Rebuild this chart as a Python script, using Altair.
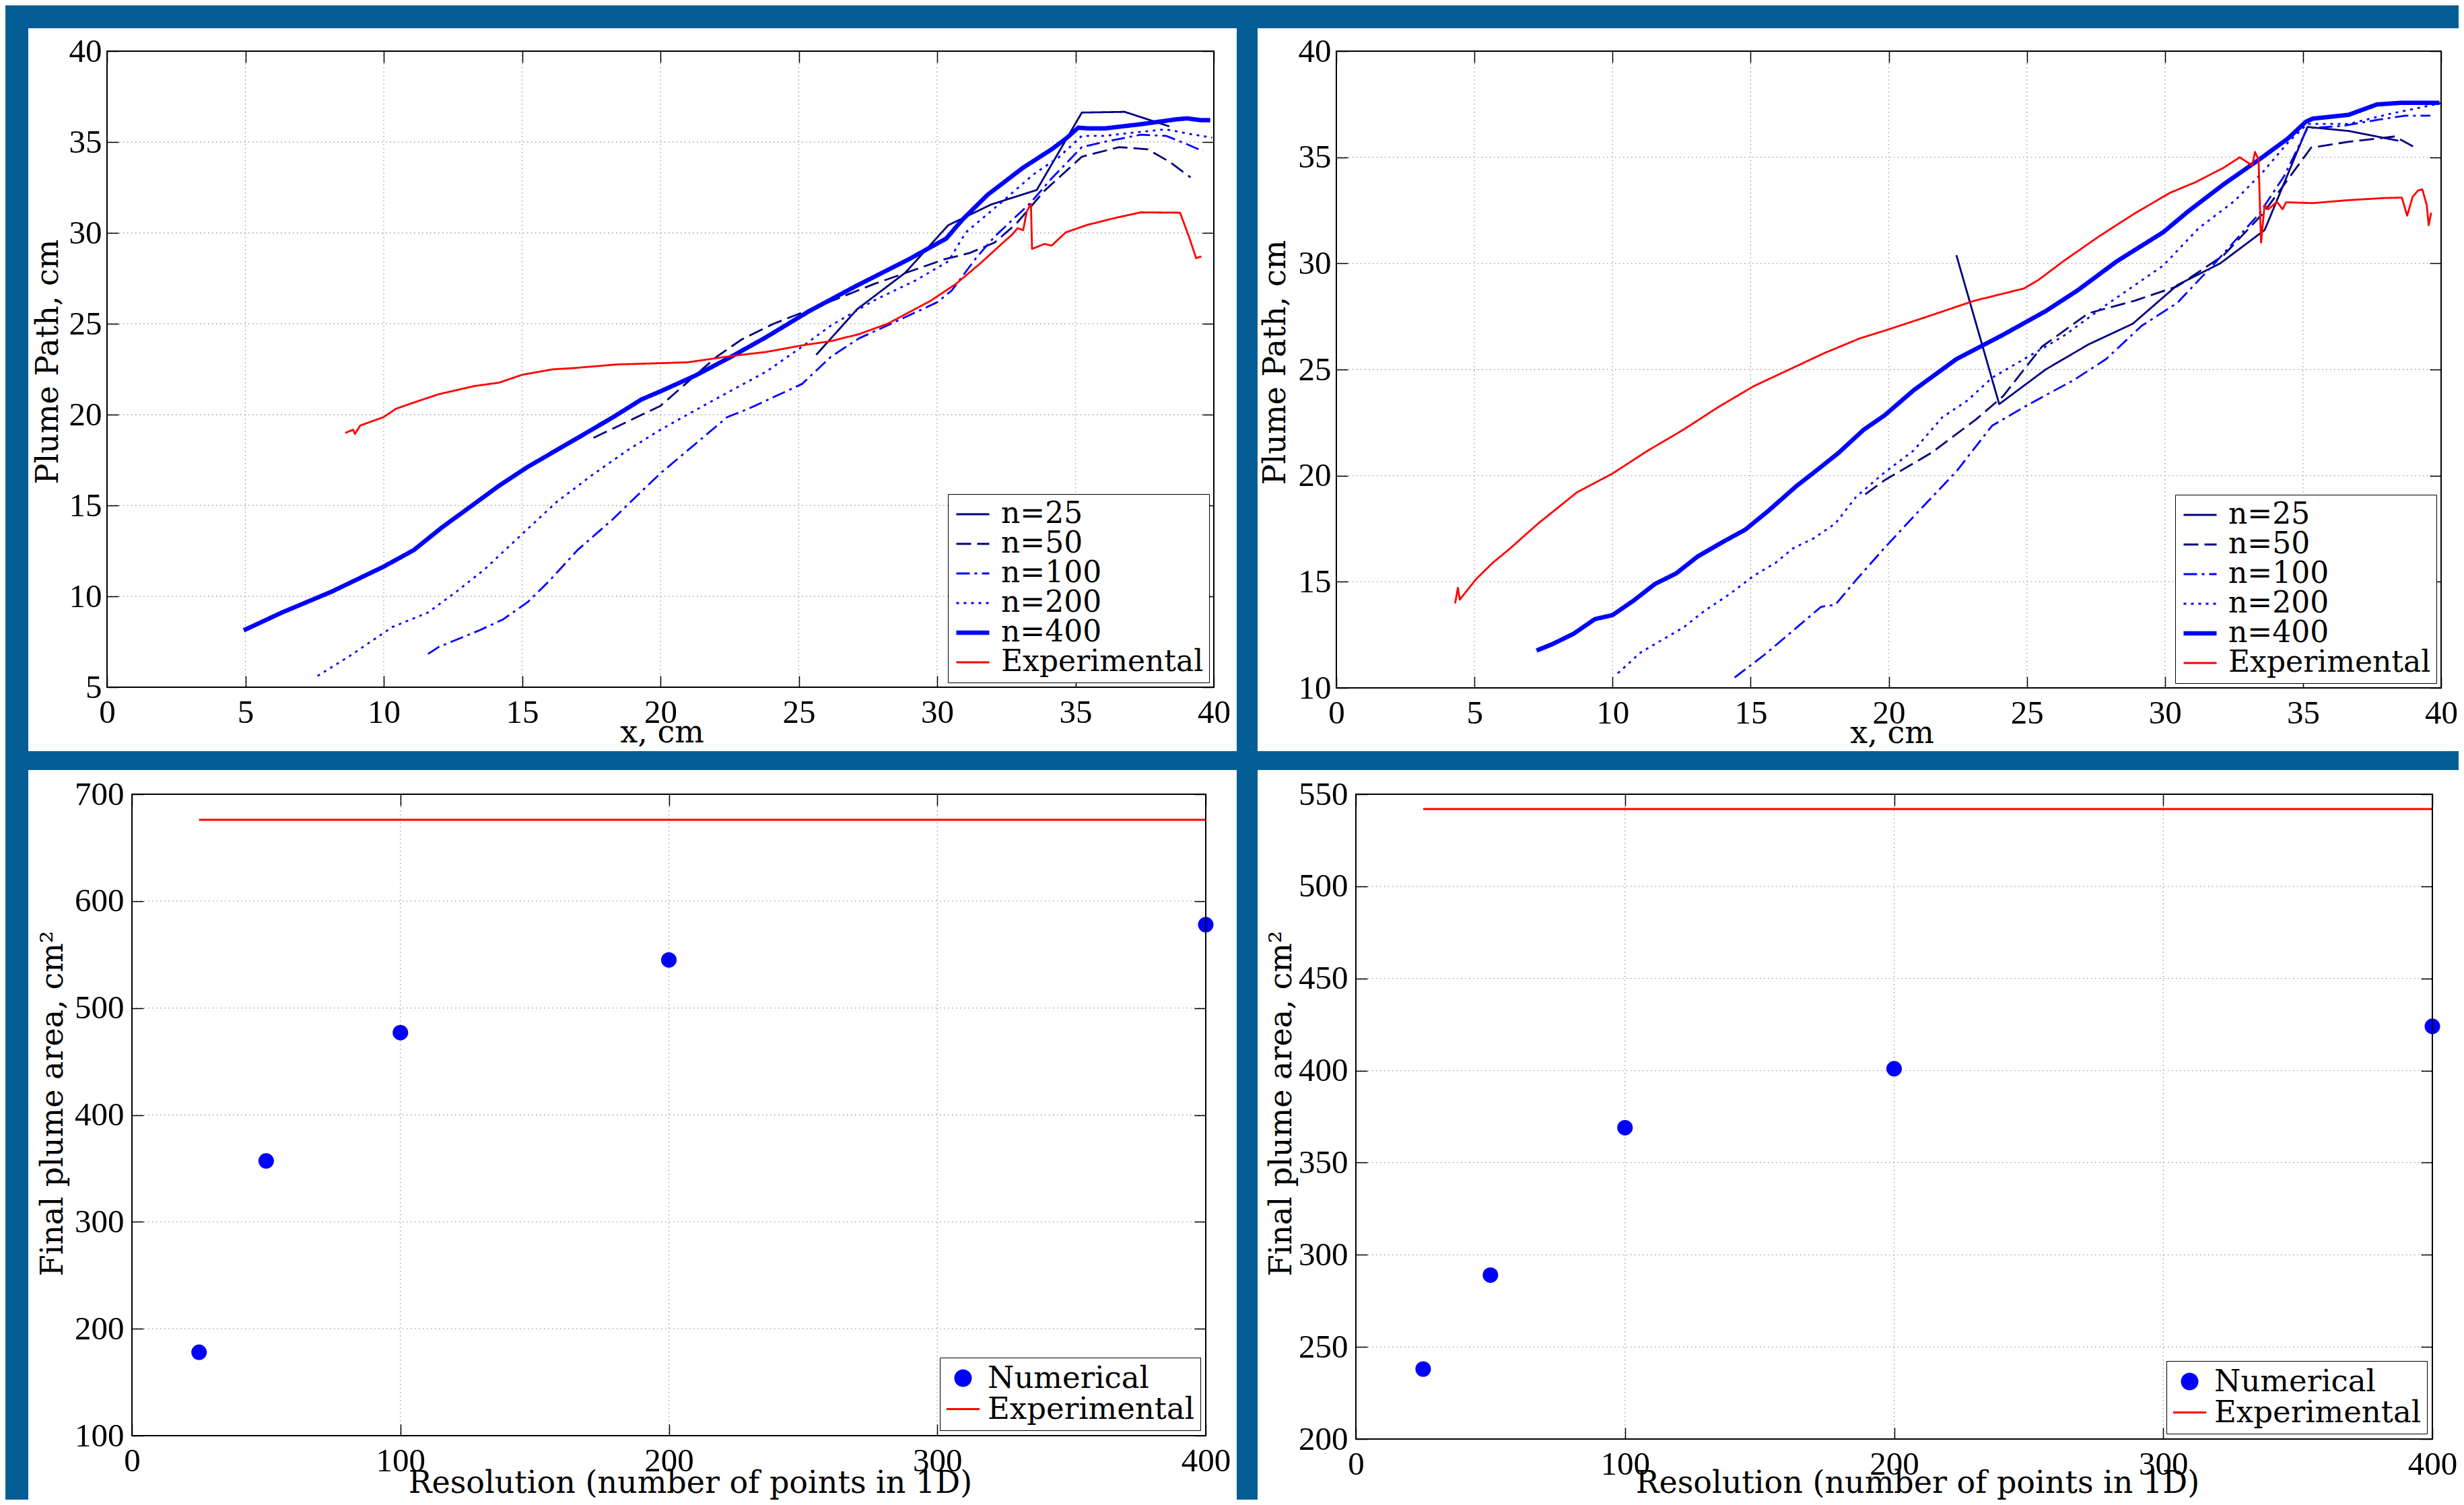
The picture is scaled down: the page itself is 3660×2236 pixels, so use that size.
import altair as alt
import pandas as pd

BG_COLOR = "#055d96"
NAVY = "#00007f"
BLUE = "#0000ff"
RED = "#ff0000"

SERIES = ["n=25", "n=50", "n=100", "n=200", "n=400", "Experimental"]
SERIES_COLORS = [NAVY, NAVY, BLUE, BLUE, BLUE, RED]
SERIES_DASHES = [[1, 0], [22, 9], [20, 7, 4, 7], [4, 7], [1, 0], [1, 0]]
SERIES_WIDTHS = [2.8, 2.8, 2.8, 2.8, 6.5, 2.8]

PATH_X_TICKS = [0, 5, 10, 15, 20, 25, 30, 35, 40]
TL_Y_TICKS = [5, 10, 15, 20, 25, 30, 35, 40]
TR_Y_TICKS = [10, 15, 20, 25, 30, 35, 40]
RES_X_TICKS = [0, 100, 200, 300, 400]
BL_Y_TICKS = [100, 200, 300, 400, 500, 600, 700]
BR_Y_TICKS = [200, 250, 300, 350, 400, 450, 500, 550]

# ---------------- top-left panel ----------------
TL_N25_X = [25.63, 27.11, 28.85, 30.4, 31.95, 33.6, 35.23, 36.78, 38.39]
TL_N25_Y = [23.29, 25.80, 27.81, 30.42, 31.56, 32.36, 36.62, 36.66, 35.86]
TL_N50_X = [17.58, 20.0, 20.99, 22.02, 22.93, 24.09, 26.02, 27.69, 28.98, 30.27,
            31.17, 32.07, 32.85, 33.88, 35.23, 36.58, 37.61, 38.39, 39.16]
TL_N50_Y = [18.72, 20.48, 21.8, 23.17, 24.13, 25.0, 26.15, 27.17, 27.86, 28.55,
            28.89, 29.46, 30.49, 32.32, 34.19, 34.72, 34.6, 33.92, 33.05]
TL_N100_X = [11.6, 11.98, 13.46, 14.3, 15.2, 15.97, 17.0, 18.29, 19.06, 20.0,
             21.25, 22.41, 23.18, 25.12, 26.15, 27.18, 28.34, 30.01, 30.53, 31.43,
             32.08, 33.36, 34.14, 35.23, 36.2, 37.36, 38.27, 39.03, 39.61]
TL_N100_Y = [6.83, 7.21, 8.13, 8.72, 9.68, 10.83, 12.54, 14.26, 15.40, 16.77,
             18.37, 19.86, 20.32, 21.69, 23.17, 24.2, 25.0, 26.19, 26.83, 28.66,
             29.8, 31.63, 33.0, 34.72, 35.06, 35.40, 35.34, 34.88, 34.49]
TL_N200_X = [7.61, 8.76, 10.31, 11.6, 12.63, 13.66, 14.94, 16.23, 17.52, 18.8,
             20.0, 21.89, 23.83, 25.12, 26.15, 27.69, 29.24, 30.4, 31.04, 32.2,
             33.49, 34.39, 35.23, 36.07, 37.1, 38.27, 39.03, 39.94]
TL_N200_Y = [5.62, 6.71, 8.31, 9.11, 10.26, 11.51, 13.34, 15.17, 16.66, 18.03,
             19.17, 20.77, 22.37, 23.74, 24.89, 26.26, 27.40, 28.43, 30.03, 31.52,
             33.23, 34.15, 35.34, 35.34, 35.52, 35.70, 35.47, 35.24]
TL_N400_X = [4.94, 6.32, 8.12, 9.99, 11.08, 12.11, 13.14, 14.17, 15.2, 16.23,
             17.26, 18.29, 19.32, 20.0, 21.25, 22.54, 23.83, 25.37, 27.05, 28.98,
             30.33, 30.91, 31.82, 33.1, 34.14, 34.65, 35.1, 35.43, 36.07, 37.36,
             38.65, 39.03, 39.55, 39.87]
TL_N400_Y = [8.13, 9.11, 10.26, 11.63, 12.54, 13.80, 14.94, 16.09, 17.12, 18.03,
             18.94, 19.86, 20.84, 21.28, 22.14, 23.17, 24.27, 25.69, 27.06, 28.55,
             29.69, 30.72, 32.09, 33.58, 34.60, 35.18, 35.79, 35.75, 35.75, 35.98,
             36.25, 36.3, 36.2, 36.2]
TL_EXP_X = [8.61, 8.89, 8.96, 9.15, 9.99, 10.44, 11.08, 11.98, 13.27, 14.17,
            15.0, 16.1, 16.87, 18.42, 20.0, 20.99, 22.54, 23.83, 25.12, 26.15,
            27.18, 28.21, 29.76, 30.66, 31.56, 32.33, 32.72, 32.91, 33.11, 33.24,
            33.39, 33.43, 33.88, 34.14, 34.65, 35.43, 36.46, 37.36, 38.78, 39.1,
            39.36, 39.55]
TL_EXP_Y = [18.99, 19.17, 18.94, 19.4, 19.86, 20.32, 20.66, 21.12, 21.57, 21.76,
            22.19, 22.49, 22.56, 22.76, 22.83, 22.88, 23.22, 23.45, 23.81, 24.04,
            24.43, 25.0, 26.26, 27.17, 28.32, 29.39, 29.92, 30.26, 30.15, 31.18,
            31.59, 29.12, 29.39, 29.30, 30.03, 30.44, 30.83, 31.13, 31.11, 29.80,
            28.61, 28.7]

# ---------------- top-right panel ----------------
TR_N25_X = [22.45, 24.0, 25.68, 27.23, 28.84, 30.45, 32.0, 33.61, 35.16, 36.65, 38.45]
TR_N25_Y = [30.39, 23.37, 25.0, 26.18, 27.16, 28.98, 30.0, 31.57, 36.43, 36.24, 35.78]
TR_N50_X = [19.15, 19.87, 21.55, 23.16, 24.13, 25.55, 27.23, 28.9, 30.45, 32.13,
            33.55, 35.29, 36.65, 38.32, 39.16]
TR_N50_Y = [19.12, 19.8, 21.08, 22.65, 23.73, 26.08, 27.65, 28.24, 28.92, 30.39,
            32.35, 35.45, 35.73, 35.98, 35.39]
TR_N100_X = [14.42, 15.51, 16.4, 17.55, 18.07, 18.83, 19.85, 21.16, 22.45, 23.74,
             25.03, 26.71, 27.87, 29.16, 30.45, 31.87, 33.42, 34.32, 35.16, 36.39,
             37.68, 38.71, 39.61]
TR_N100_Y = [10.49, 11.57, 12.55, 13.82, 13.92, 15.1, 16.6, 18.43, 20.2, 22.35,
             23.33, 24.51, 25.49, 27.06, 28.14, 30.1, 32.35, 34.12, 36.37, 36.47,
             36.76, 36.96, 36.96]
TR_N200_X = [10.19, 11.02, 11.66, 12.56, 13.33, 14.23, 15.12, 15.89, 16.53, 17.3,
             18.07, 18.83, 19.85, 20.9, 21.94, 22.84, 23.74, 25.03, 26.32, 27.87,
             29.94, 31.23, 32.52, 33.55, 34.45, 35.16, 36.65, 38.19, 40.0]
TR_N200_Y = [10.69, 11.67, 12.16, 12.84, 13.63, 14.41, 15.29, 15.88, 16.57, 17.06,
             17.75, 19.02, 20.15, 21.18, 22.75, 23.53, 24.61, 25.59, 26.57, 28.04,
             29.9, 31.67, 32.94, 34.31, 35.69, 36.57, 36.57, 37.06, 37.55]
TR_N400_X = [7.25, 7.82, 8.59, 9.36, 10.0, 10.77, 11.54, 12.3, 13.07, 13.97,
             14.8, 15.63, 16.66, 17.43, 18.19, 19.09, 19.85, 20.9, 22.45, 24.13,
             25.68, 26.84, 28.26, 29.94, 30.84, 32.13, 33.42, 34.45, 35.1, 35.35,
             36.65, 37.68, 38.58, 39.94]
TR_N400_Y = [11.76, 12.06, 12.55, 13.24, 13.43, 14.12, 14.90, 15.39, 16.18, 16.86,
             17.45, 18.33, 19.51, 20.29, 21.08, 22.16, 22.84, 24.02, 25.49, 26.63,
             27.75, 28.73, 30.10, 31.47, 32.45, 33.73, 34.9, 35.88, 36.67, 36.82,
             37.0, 37.49, 37.57, 37.57]
TR_EXP_X = [4.3, 4.4, 4.47, 5.07, 5.65, 6.29, 7.31, 8.72, 10.0, 11.28,
            12.56, 13.84, 15.12, 16.4, 17.68, 18.96, 19.85, 21.16, 23.1, 24.9,
            25.42, 26.32, 27.61, 28.9, 30.19, 31.1, 32.13, 32.71, 33.16, 33.26,
            33.39, 33.48, 33.61, 33.74, 34.06, 34.26, 34.39, 35.35, 36.65, 37.94,
            38.58, 38.77, 38.97, 39.16, 39.32, 39.48, 39.55, 39.64]
TR_EXP_Y = [13.98, 14.71, 14.16, 15.14, 15.88, 16.57, 17.75, 19.22, 20.1, 21.18,
            22.16, 23.24, 24.22, 25.0, 25.78, 26.47, 26.83, 27.39, 28.24, 28.82,
            29.22, 30.1, 31.27, 32.35, 33.33, 33.82, 34.51, 35.0, 34.61, 35.25,
            34.9, 30.98, 32.75, 32.55, 32.9, 32.55, 32.88, 32.84, 32.98, 33.08,
            33.1, 32.25, 33.14, 33.43, 33.49, 32.75, 31.8, 32.39]

# ---------------- bottom panels ----------------
RESOLUTION = [25, 50, 100, 200, 400]
BL_AREA = [178, 357, 477, 545, 578]
BR_AREA = [238, 289, 369, 401, 424]
EXP_X = [25, 400]
BL_EXP_Y = [676, 676]
BR_EXP_Y = [542, 542]
BOTTOM_SERIES = ["Numerical", "Experimental"]

DUMMY = pd.DataFrame({"k": [0]})
TICK = 17
GRID_COLOR = "#9c9c9c"
GRID_DASH = [1.5, 4.5]

# legend line symbols: a horizontal path wider than the symbol box, so rows stay compact
TOP_LINE_SYMBOL = "M-1.4,0H1.4"
BOTTOM_LINE_SYMBOL = "M-1.17,0H1.17"


def path_df(entries):
    rows = []
    for name, xs, ys in entries:
        for i, (x, y) in enumerate(zip(xs, ys)):
            rows.append({"x": x, "y": y, "series": name, "idx": i})
    return pd.DataFrame(rows)


TICK_AXIS = dict(tickSize=TICK, domain=False, grid=False, zindex=1, minExtent=0,
                 tickColor="black", tickWidth=1.5)


def decor_layers(W, H, rect, frame_x0, xscale, xticks, yscale, yticks):
    x0, x1, y0, y1 = rect
    bg = alt.Chart(DUMMY).mark_rect(color="white").encode(
        x=alt.value(x0), x2=alt.value(x1), y=alt.value(y0), y2=alt.value(y1))
    xgrid = alt.Chart(pd.DataFrame({"v": xticks[1:-1]})).mark_rule(
        color=GRID_COLOR, strokeDash=GRID_DASH, strokeWidth=1.3).encode(
        x=alt.X("v:Q", scale=xscale,
                axis=alt.Axis(orient="top", values=xticks, labels=False, title=None,
                              offset=-TICK, **TICK_AXIS)))
    ygrid = alt.Chart(pd.DataFrame({"v": yticks[1:-1]})).mark_rule(
        color=GRID_COLOR, strokeDash=GRID_DASH, strokeWidth=1.3).encode(
        y=alt.Y("v:Q", scale=yscale,
                axis=alt.Axis(orient="right", values=yticks, labels=False, title=None,
                              offset=-TICK, **TICK_AXIS)),
        x=alt.X(datum=xticks[0], scale=xscale, axis=None),
        x2=alt.X2(datum=xticks[-1]))
    box = alt.Chart(DUMMY).mark_rect(filled=False, stroke="black", strokeWidth=2).encode(
        x=alt.value(frame_x0), x2=alt.value(W), y=alt.value(0), y2=alt.value(H))
    return bg, xgrid, ygrid, box


def main_axes(xticks, yticks, xtitle, ytitle, xt_x, xt_y, yt_x, yt_y, ylabpad, yoffset):
    xa = alt.Axis(orient="bottom", values=xticks, labelPadding=13, labelFlush=False,
                  labelOverlap=False, title=xtitle, titleX=xt_x, titleY=xt_y, offset=-TICK,
                  titleAngle=0, titleAlign="center", titleBaseline="middle", **TICK_AXIS)
    ya = alt.Axis(orient="left", values=yticks, labelPadding=ylabpad, labelFlush=False,
                  labelOverlap=False, title=ytitle, titleX=yt_x, titleY=yt_y, offset=yoffset,
                  titleAngle=270, titleAlign="center", titleBaseline="middle", **TICK_AXIS)
    return xa, ya


TOP_LEGEND = alt.Legend(
    title=None, orient="bottom-right", offset=7, padding=8, strokeColor="black",
    fillColor="white", symbolType=TOP_LINE_SYMBOL, symbolSize=1225, symbolStrokeWidth=2.8,
    symbolOffset=7, labelFont="DejaVu Serif", labelFontSize=44, labelColor="black",
    labelLimit=1000, labelOffset=20, rowPadding=0, zindex=2)

BOTTOM_LEGEND = alt.Legend(
    title=None, orient="bottom-right", offset=8, padding=8, strokeColor="black",
    fillColor="white", symbolType="stroke", symbolSize=1764, symbolStrokeWidth=3,
    symbolOffset=4, labelFont="DejaVu Serif", labelFontSize=45, labelColor="black",
    labelLimit=1000, labelOffset=14, rowPadding=0, zindex=2)


def path_panel(entries, W, H, rect, ydom, yticks, xt_x, xt_y, yt_x, yt_y):
    df = path_df(entries)
    xscale = alt.Scale(domain=[0, 40], nice=False, zero=False)
    yscale = alt.Scale(domain=ydom, nice=False, zero=False)
    bg, xgrid, ygrid, box = decor_layers(W, H, rect, 0, xscale, PATH_X_TICKS, yscale, yticks)
    xa, ya = main_axes(PATH_X_TICKS, yticks, "x, cm", "Plume Path, cm",
                       xt_x, xt_y, yt_x, yt_y, 8, -TICK)
    lines = alt.Chart(df).mark_line(strokeJoin="round").encode(
        x=alt.X("x:Q", scale=xscale, axis=xa),
        y=alt.Y("y:Q", scale=yscale, axis=ya),
        color=alt.Color("series:N", scale=alt.Scale(domain=SERIES, range=SERIES_COLORS),
                        legend=TOP_LEGEND),
        strokeDash=alt.StrokeDash("series:N", scale=alt.Scale(domain=SERIES, range=SERIES_DASHES),
                                  legend=TOP_LEGEND),
        strokeWidth=alt.StrokeWidth("series:N", scale=alt.Scale(type="ordinal", domain=SERIES,
                                                                range=SERIES_WIDTHS),
                                    legend=TOP_LEGEND),
        order="idx:Q",
    )
    return alt.layer(bg, xgrid, ygrid, lines, box).resolve_axis(
        x="independent", y="independent").properties(width=W, height=H)


def area_panel(area, exp_y, W, H, rect, frame_x0, xdom, ydom, yticks, xt_x, xt_y, yt_x, yt_y):
    xscale = alt.Scale(domain=xdom, nice=False, zero=False)
    yscale = alt.Scale(domain=ydom, nice=False, zero=False)
    bg, xgrid, ygrid, box = decor_layers(W, H, rect, frame_x0, xscale, RES_X_TICKS, yscale, yticks)
    xa, ya = main_axes(RES_X_TICKS, yticks, "Resolution (number of points in 1D)",
                       "Final plume area, cm²", xt_x, xt_y, yt_x, yt_y, 12, -(frame_x0 + TICK))
    cscale = alt.Scale(domain=BOTTOM_SERIES, range=[BLUE, RED])
    pts_df = pd.DataFrame({"x": RESOLUTION, "y": area, "series": "Numerical"})
    exp_df = pd.DataFrame({"x": EXP_X, "y": exp_y, "series": "Experimental"})
    exp_line = alt.Chart(exp_df).mark_line(strokeWidth=3).encode(
        x=alt.X("x:Q", scale=xscale, axis=xa),
        y=alt.Y("y:Q", scale=yscale, axis=ya),
        color=alt.Color("series:N", scale=cscale, legend=BOTTOM_LEGEND),
    )
    pts = alt.Chart(pts_df).mark_point(filled=True, opacity=1).encode(
        x=alt.X("x:Q", scale=xscale, axis=None),
        y=alt.Y("y:Q", scale=yscale, axis=None),
        color=alt.Color("series:N", scale=cscale, legend=BOTTOM_LEGEND),
        shape=alt.Shape("series:N", scale=alt.Scale(domain=BOTTOM_SERIES,
                                                    range=["circle", BOTTOM_LINE_SYMBOL]),
                        legend=BOTTOM_LEGEND),
        size=alt.Size("series:N", scale=alt.Scale(type="point", domain=BOTTOM_SERIES,
                                                  range=[530, 1764], padding=0),
                      legend=BOTTOM_LEGEND),
    )
    return alt.layer(bg, xgrid, ygrid, exp_line, pts, box).resolve_axis(
        x="independent", y="independent").properties(width=W, height=H)


TL_ENTRIES = [("n=25", TL_N25_X, TL_N25_Y), ("n=50", TL_N50_X, TL_N50_Y),
              ("n=100", TL_N100_X, TL_N100_Y), ("n=200", TL_N200_X, TL_N200_Y),
              ("n=400", TL_N400_X, TL_N400_Y), ("Experimental", TL_EXP_X, TL_EXP_Y)]
TR_ENTRIES = [("n=25", TR_N25_X, TR_N25_Y), ("n=50", TR_N50_X, TR_N50_Y),
              ("n=100", TR_N100_X, TR_N100_Y), ("n=200", TR_N200_X, TR_N200_Y),
              ("n=400", TR_N400_X, TR_N400_Y), ("Experimental", TR_EXP_X, TR_EXP_Y)]

# left column shares its plot origin (page x=159); the bottom-left frame starts 37px in
BL_FRAME_X0 = 37
BL_W = 1632
BL_XDOM = [-400.0 * BL_FRAME_X0 / (BL_W - BL_FRAME_X0), 400]

tl = path_panel(TL_ENTRIES, 1644, 945, (-117, 1678, -34, 1040), [5, 40], TL_Y_TICKS,
                824, 84, -105, 461)
tr = path_panel(TR_ENTRIES, 1641, 946, (-117, 1667, -34, 1040), [10, 40], TR_Y_TICKS,
                825, 84, -108, 462)
bl = area_panel(BL_AREA, BL_EXP_Y, BL_W, 953, (-117, 1678, -36, 1048), BL_FRAME_X0, BL_XDOM,
                [100, 700], BL_Y_TICKS, 866, 87, -135, 459)
br = area_panel(BR_AREA, BR_EXP_Y, 1599, 958, (-146, 1638, -36, 1048), 0, [0, 400],
                [200, 550], BR_Y_TICKS, 834, 82, -128, 459)

INDEP = dict(color="independent", strokeDash="independent", strokeWidth="independent",
             shape="independent", size="independent")

top_row = alt.hconcat(tl, tr, spacing=31).resolve_scale(**INDEP).resolve_legend(**INDEP)
bottom_row = alt.hconcat(bl, br, spacing=31).resolve_scale(**INDEP).resolve_legend(**INDEP)

chart = alt.vconcat(top_row, bottom_row, spacing=28).resolve_scale(**INDEP).resolve_legend(
    **INDEP
).properties(
    background=BG_COLOR,
    padding={"left": 34, "top": 34, "right": 0, "bottom": 0},
).configure_view(
    strokeWidth=0,
).configure_axis(
    labelFont="Liberation Serif", labelFontSize=49, labelColor="black",
    titleFont="DejaVu Serif", titleFontSize=46, titleFontWeight="normal", titleColor="black",
)

chart.save("out.html", embed_options={"renderer": "svg", "actions": False})
